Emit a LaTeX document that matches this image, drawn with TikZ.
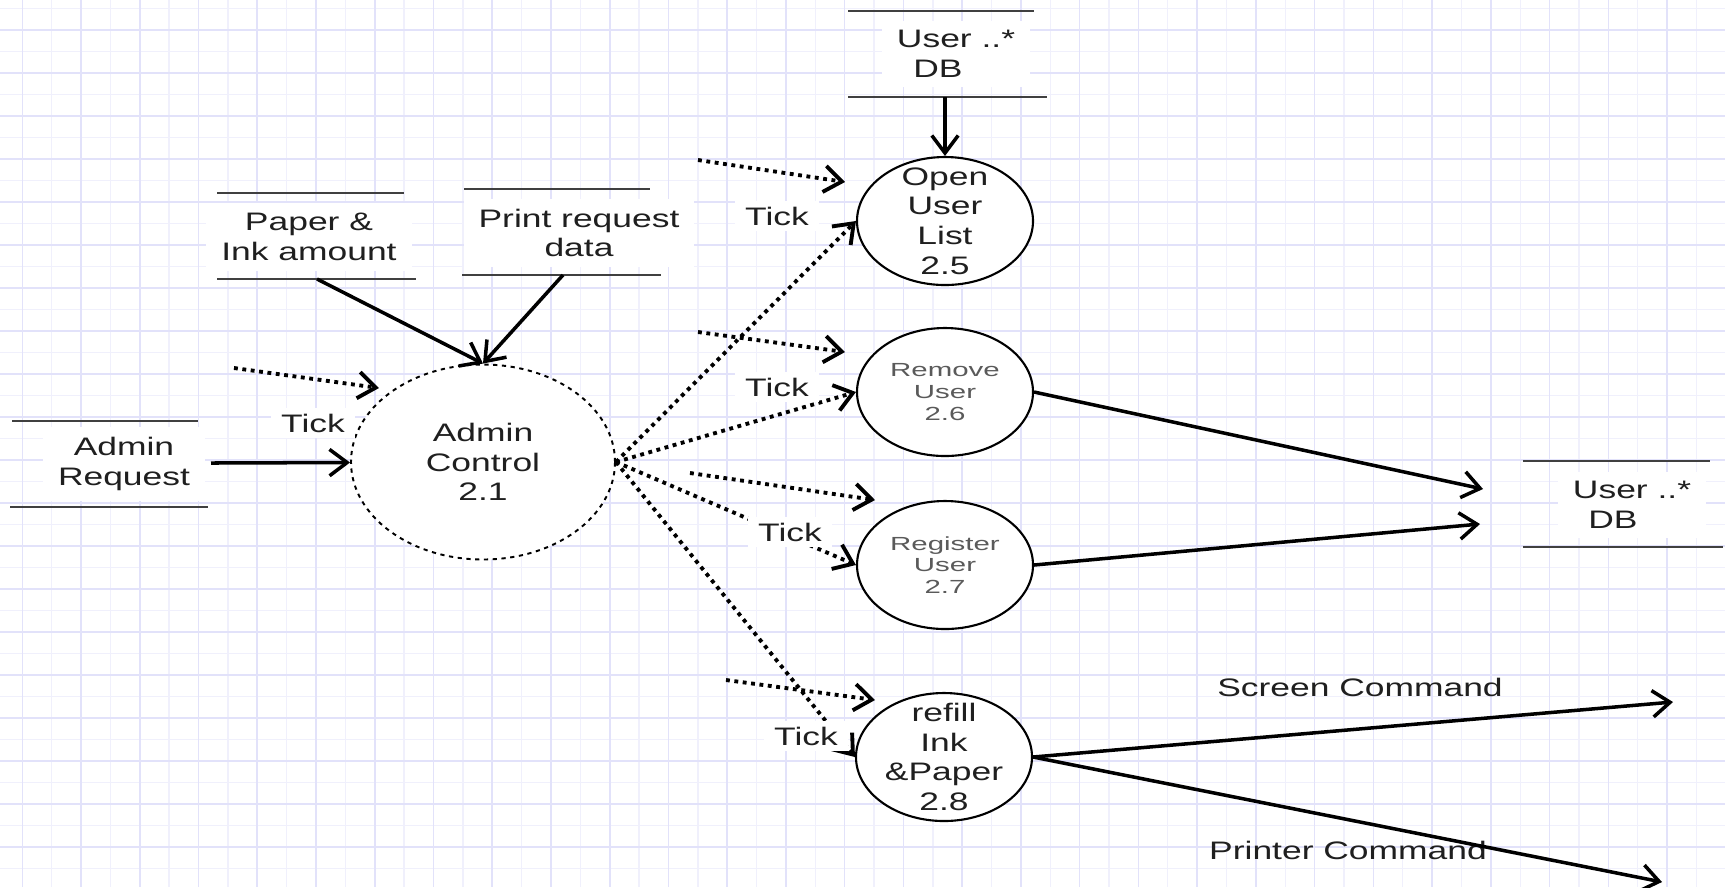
\documentclass[tikz,border=0pt]{standalone}
\usepackage{fontspec}
\setmainfont{Liberation Sans}[FakeStretch=1.4]
\newfontfamily\grayfont{Liberation Sans}[FakeStretch=1.55]
\usetikzlibrary{shapes.geometric,arrows.meta}

\definecolor{gridmajor}{RGB}{226,226,250}
\definecolor{gridminor}{RGB}{240,240,252}
\definecolor{storegray}{RGB}{64,64,64}
\definecolor{smalltext}{RGB}{90,90,90}

\begin{document}
\begin{tikzpicture}[
		x=0.1mm, y=-0.1mm,
		every node/.style={font=\fontsize{7.2}{8.4}\selectfont, align=center, text=black!88},
		proc/.style={ellipse, draw, line width=0.6pt, fill=white, inner sep=0pt, minimum width=17.6mm, minimum height=12.8mm},
		store/.style={fill=white, inner xsep=1.5mm, inner ysep=1mm},
		storeline/.style={storegray, line width=0.6pt},
		ticklabel/.style={fill=white, inner xsep=1mm, inner ysep=0.6mm},
		flow/.style={-{Straight Barb[length=5pt,width=7.5pt]}, line width=1pt},
		tickflow/.style={flow, line width=1.1pt, dash pattern=on 1.1pt off 1.3pt}
		]
		\useasboundingbox (0,0) rectangle (1725,887);
		\fill[white] (0,0) rectangle (1725,887);
		% grid paper
		\foreach \gx in {0,...,28} {
			\draw[gridminor, line width=0.4pt] ({51.7+58.74*\gx},0) -- ++(0,887);
		}
		\foreach \gy in {0,...,20} {
			\draw[gridminor, line width=0.4pt] (0,{8.5+43*\gy}) -- ++(1725,0);
		}
		\foreach \gx in {0,...,28} {
			\draw[gridmajor, line width=0.45pt] ({22.3+58.74*\gx},0) -- ++(0,887);
		}
		\foreach \gy in {0,...,19} {
			\draw[gridmajor, line width=0.45pt] (0,{30+43*\gy}) -- ++(1725,0);
		}

		% data stores
		\node[store] (areq) at (124,464) {Admin\\Request};
		\draw[storeline] (12,421) -- (198,421) (10,507) -- (208,507);
		\coordinate (areqout) at (211,463);

		\node[store] (paper) at (309,237) {Paper \&\\Ink amount};
		\draw[storeline] (217,193) -- (404,193) (217,279) -- (416,279);
		\coordinate (paperout) at (317,279);

		\node[store] (prdata) at (579,233) {Print request\\data};
		\draw[storeline] (464,189) -- (650,189) (462,275) -- (661,275);
		\coordinate (prout) at (563,275);

		\node[store] (udbtop) at (956,54) {User ..*\\DB\kern3.6mm};
		\draw[storeline] (848,11) -- (1034,11) (848,97) -- (1047,97);
		\coordinate (udbout) at (945,97);

		\node[store] (udbright) at (1632,505) {User ..*\\DB\kern3.8mm};
		\draw[storeline] (1523,461) -- (1710,461) (1523,547) -- (1723,547);
		\coordinate (udbin1) at (1483,489);
		\coordinate (udbin2) at (1480,524);

		% processes
		\node[proc, minimum width=26.4mm, minimum height=19.5mm, line width=0.55pt, dash pattern=on 1.2pt off 1.3pt] (admin) at (483,462) {Admin\\Control\\2.1};
		\node[proc, label={center:{Open\\User\\List\\2.5}}] (p25) at (945,221) {};
		\node[proc, font=\grayfont\fontsize{5.4}{6.2}\selectfont, text=smalltext] (p26) at (945,392) {Remove\\User\\2.6};
		\node[proc, font=\grayfont\fontsize{5.4}{6.2}\selectfont, text=smalltext] (p27) at (945,565) {Register\\User\\2.7};
		\node[proc, label={center:{refill\\Ink\\\&Paper\\2.8}}] (p28) at (944,757) {};

		% tick flows
		\coordinate (tadm1) at (234,368);
		\coordinate (tadm2) at (379,388);
		\coordinate (t25a) at (698,160);
		\coordinate (t25b) at (845,182);
		\coordinate (t26a) at (698,332);
		\coordinate (t26b) at (845,352);
		\coordinate (t27a) at (690,473);
		\coordinate (t27b) at (875,500);
		\coordinate (t28a) at (726,680);
		\coordinate (t28b) at (875,700);
		\draw[tickflow] (tadm1) -- (tadm2);
		\draw[tickflow] (t25a) -- (t25b);
		\draw[tickflow] (t26a) -- (t26b);
		\draw[tickflow] (t27a) -- (t27b);
		\draw[tickflow] (t28a) -- (t28b);
		\draw[tickflow] (admin.east) -- (p25.west);
		\draw[tickflow] (admin.east) -- (p26.west);
		\draw[tickflow] (admin.east) -- (p27.west);
		\draw[tickflow] (admin.east) -- (p28.west);

		\node[ticklabel] (tickadm) at (313,423) {Tick};
		\node[ticklabel] (tick25) at (777,216) {Tick};
		\node[ticklabel] (tick26) at (777,387) {Tick};
		\node[ticklabel] (tick27) at (790,532) {Tick};
		\node[ticklabel] (tick28) at (806,736) {Tick};

		\node (scrcmd) at (1360,687) {Screen Command};
		\node (prncmd) at (1348,850) {Printer Command};
		\coordinate (scrout) at (1673,702);
		\coordinate (prnout) at (1662,882);

		% data flows
		\draw[flow] (areqout) -- (admin);
		\draw[flow] (paperout) -- (admin.north);
		\draw[flow] (prout) -- (admin.north);
		\draw[flow] (udbout) -- (p25);
		\draw[flow] (p26.east) -- (udbin1);
		\draw[flow] (p27.east) -- (udbin2);
		\draw[flow] (p28.east) -- (scrout);
		\draw[flow] (p28.east) -- (prnout);
\end{tikzpicture}
\end{document}
